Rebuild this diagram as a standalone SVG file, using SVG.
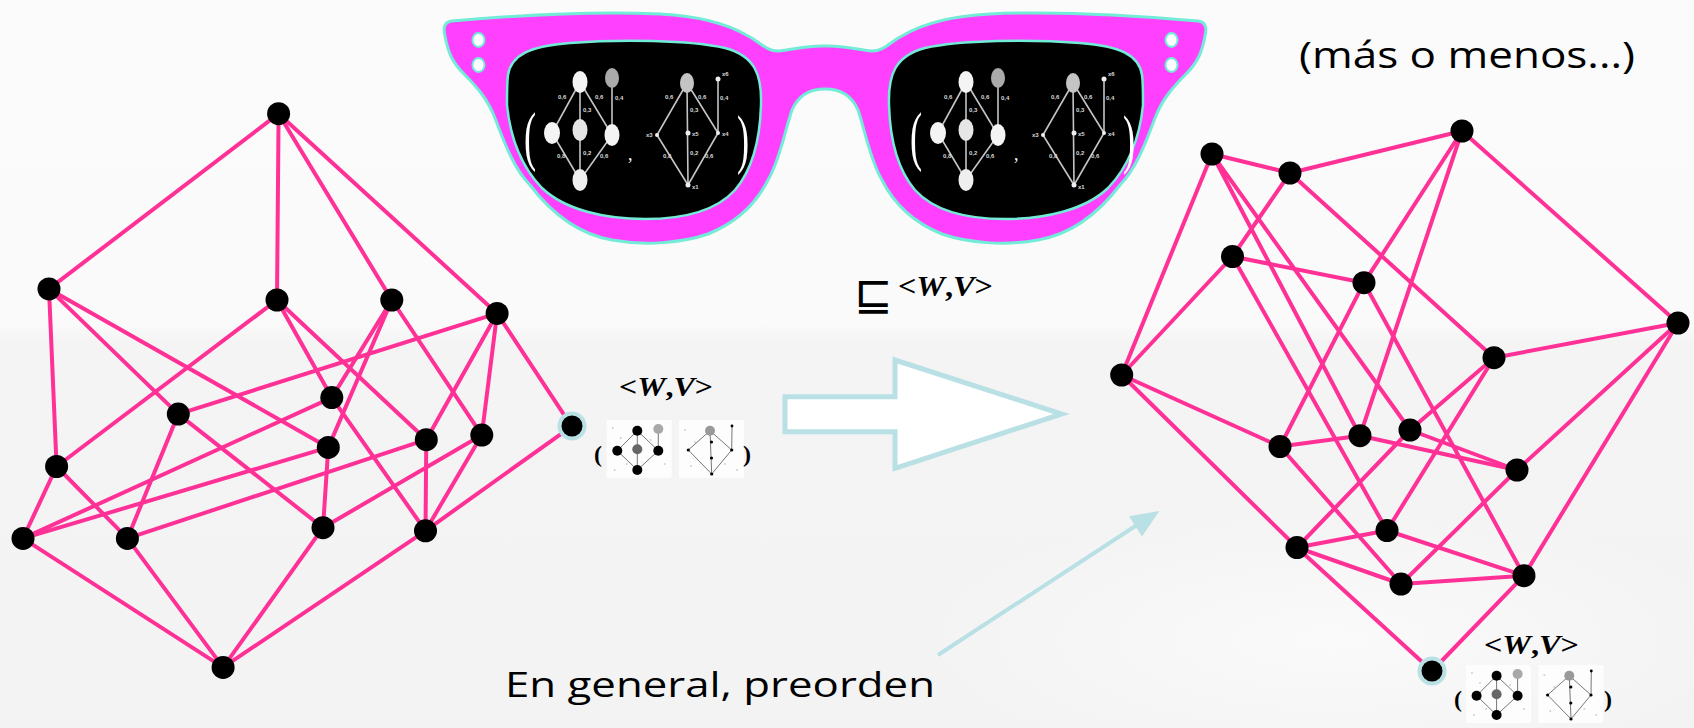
<svg xmlns="http://www.w3.org/2000/svg" xmlns:xlink="http://www.w3.org/1999/xlink" width="1694" height="728" viewBox="0 0 1694 728">
  <style>
    .edge { stroke: #ff3196; stroke-width: 4; stroke-linecap: round; fill: none; }
    .dot { fill: #000; }
    .ring { fill: #b9e0e4; }
    .frame { fill: #ff40ff; stroke: #72ecd6; stroke-width: 3; stroke-linejoin: round; }
    .lens { fill: #000; stroke: #72ecd6; stroke-width: 2.5; }
    .pin { fill: #fff; stroke: #72ecd6; stroke-width: 2; }
    .pointer { fill: none; stroke: #b9e0e4; stroke-width: 4; }
    .math { font-family: "Liberation Serif", "Times New Roman", serif; font-weight: bold; fill: #000; }
    .hand { font-family: "Open Sans", "Liberation Sans", sans-serif; fill: #000; }
    .tiny { font-family: "Liberation Sans", sans-serif; font-size: 6px; font-weight: bold; fill: #d8d8d8; }
    .thin { fill: #fff; font-family: "Liberation Serif", serif; }
    .art-edge { stroke: #c4c4c4; stroke-width: 1.6; fill: none; }
    .thumb-edge { stroke: #777; stroke-width: 1; fill: none; }
  </style>
  <defs>
    <linearGradient id="bg" x1="0" y1="0" x2="0" y2="1">
      <stop offset="0" stop-color="#fbfbfb"/>
      <stop offset="0.445" stop-color="#fafafa"/>
      <stop offset="0.47" stop-color="#f4f4f4"/>
      <stop offset="1" stop-color="#f3f3f3"/>
    </linearGradient>
    <radialGradient id="haze" cx="0.5" cy="0.5" r="0.5">
      <stop offset="0" stop-color="#ffffff" stop-opacity="0.6"/>
      <stop offset="1" stop-color="#ffffff" stop-opacity="0"/>
    </radialGradient>
    <filter id="soft" x="-20%" y="-20%" width="140%" height="140%">
      <feGaussianBlur stdDeviation="0.7"/>
    </filter>

    <!-- lens outline (left lens; the right one is its mirror image) -->
    <path id="lensShape" d="M508,75 C511,55 530,46 570,43 C620,39 690,40 725,48 C755,56 762,75 761,105 C760,140 752,170 735,190 C715,212 680,219 645,219 C605,219 565,210 542,188 C520,165 510,135 507,105 C507,92 507,82 508,75 Z"/>

    <!-- the two little lattices seen through a lens -->
    <g id="lensArt">
      <g filter="url(#soft)">
        <path class="art-edge" d="M580,82 L552,133 M580,82 L580,180 M580,82 L612,135 M552,133 L580,180 M612,135 L580,180 M612,78 L612,135"/>
        <ellipse cx="580" cy="82" rx="7.5" ry="11" fill="#f4f4f4"/>
        <ellipse cx="612" cy="78" rx="7" ry="10" fill="#aaaaaa"/>
        <ellipse cx="552" cy="133" rx="8" ry="11" fill="#f4f4f4"/>
        <ellipse cx="580" cy="130" rx="7.5" ry="11" fill="#e6e6e6"/>
        <ellipse cx="612" cy="135" rx="7.5" ry="11" fill="#f4f4f4"/>
        <ellipse cx="580" cy="180" rx="7.5" ry="11" fill="#efefef"/>
        <path class="art-edge" d="M687,83 L657,135 M687,83 L688,185 M687,83 L718,133 M657,135 L688,185 M718,133 L688,185 M718,80 L718,133"/>
        <ellipse cx="687" cy="83" rx="7" ry="10" fill="#c4c4c4"/>
        <circle cx="718" cy="79" r="2.5" fill="#eee"/>
        <circle cx="657" cy="135" r="2" fill="#eee"/>
        <circle cx="688" cy="133" r="2.5" fill="#eee"/>
        <circle cx="718" cy="133" r="2" fill="#eee"/>
        <circle cx="688" cy="185" r="2.5" fill="#eee"/>
      </g>
      <text class="tiny" x="558" y="99">0,6</text>
      <text class="tiny" x="595" y="99">0,6</text>
      <text class="tiny" x="615" y="100">0,4</text>
      <text class="tiny" x="583" y="112">0,3</text>
      <text class="tiny" x="557" y="158">0,8</text>
      <text class="tiny" x="583" y="155">0,2</text>
      <text class="tiny" x="600" y="158">0,6</text>
      <text class="tiny" x="665" y="99">0,6</text>
      <text class="tiny" x="698" y="99">0,6</text>
      <text class="tiny" x="720" y="100">0,4</text>
      <text class="tiny" x="690" y="112">0,3</text>
      <text class="tiny" x="663" y="158">0,8</text>
      <text class="tiny" x="690" y="155">0,2</text>
      <text class="tiny" x="705" y="158">0,6</text>
      <text class="tiny" x="646" y="137">x3</text>
      <text class="tiny" x="692" y="136">x5</text>
      <text class="tiny" x="722" y="136">x4</text>
      <text class="tiny" x="692" y="189">x1</text>
      <text class="tiny" x="722" y="76">x6</text>
      <text class="thin" font-size="66" transform="translate(524,158) scale(0.55,1)">(</text>
      <text class="thin" font-size="66" transform="translate(737,161) scale(0.55,1)">)</text>
      <text class="thin" x="628" y="160" font-size="18">,</text>
    </g>

    <!-- pair of valuation thumbnails, origin at top-left of the first one -->
    <g id="thumbs">
      <rect x="0" y="0" width="65" height="58" fill="#fdfdfd"/>
      <g fill="#cfcfcf">
        <circle cx="6" cy="8" r="1"/><circle cx="14" cy="18" r="1"/><circle cx="44" cy="20" r="1"/>
        <circle cx="58" cy="44" r="1"/><circle cx="20" cy="44" r="1"/><circle cx="8" cy="50" r="1"/>
      </g>
      <path class="thumb-edge" d="M30.6,10.7 L10.6,30.7 M30.6,10.7 L51.6,30.7 M30.6,10.7 L30.6,50 M10.6,30.7 L30.6,50 M51.6,30.7 L30.6,50 M51.6,9 L51.6,30.7"/>
      <circle cx="30.6" cy="10.7" r="5"/>
      <circle cx="51.6" cy="9" r="5" fill="#a8a8a8"/>
      <circle cx="10.6" cy="30.7" r="5"/>
      <circle cx="30.6" cy="29.3" r="5" fill="#666"/>
      <circle cx="51.6" cy="30.7" r="5"/>
      <circle cx="30.6" cy="50" r="5"/>
      <g transform="translate(72.3,0)">
        <rect x="0" y="0" width="65" height="58" fill="#fdfdfd"/>
        <g fill="#cfcfcf">
          <circle cx="6" cy="10" r="1"/><circle cx="16" cy="22" r="1"/><circle cx="46" cy="44" r="1"/>
          <circle cx="58" cy="50" r="1"/><circle cx="12" cy="46" r="1"/>
        </g>
        <path class="thumb-edge" d="M31,10.7 L9.3,30 M31,10.7 L52.7,30 M31,10.7 L32.7,54 M9.3,30 L32.7,54 M52.7,30 L32.7,54 M53,6 L52.7,30"/>
        <circle cx="31" cy="10.7" r="5" fill="#999"/>
        <circle cx="32.5" cy="22" r="1.6"/>
        <circle cx="32.5" cy="38" r="1.6"/>
        <circle cx="32.7" cy="54" r="1.6"/>
        <circle cx="9.3" cy="30" r="1.6"/>
        <circle cx="52.7" cy="30" r="1.6"/>
        <circle cx="53" cy="6" r="1.4"/>
      </g>
    </g>
  </defs>

  <!-- backdrop -->
  <rect width="1694" height="728" fill="url(#bg)"/>
  <ellipse cx="1330" cy="640" rx="420" ry="140" fill="url(#haze)"/>

  <!-- sunglasses -->
  <g id="glasses">
    <path class="frame" d="M825,46 C808,45 792,50 778,51 C766,51 760,42 748,36 C728,24 700,16 660,14 C600,11 520,15 452,21 C444,22 443,28 445,36 C448,52 452,62 464,74 C478,88 488,100 495,118 C505,145 515,170 530,185 C552,214 578,234 612,240 C645,246 682,243 708,234 C738,222 757,202 768,180 C780,160 785,130 792,110 C798,96 808,89 825,89 C842,89 852,96 858,110 C865,130 870,160 882,180 C893,202 912,222 942,234 C968,243 1005,246 1038,240 C1072,234 1098,214 1120,185 C1135,170 1145,145 1155,118 C1162,100 1172,88 1186,74 C1198,62 1202,52 1205,36 C1207,28 1206,22 1198,21 C1130,15 1050,11 990,14 C950,16 922,24 902,36 C890,42 884,51 872,51 C858,50 842,45 825,46 Z"/>
    <ellipse class="pin" cx="478.5" cy="40" rx="6" ry="7"/>
    <ellipse class="pin" cx="478.5" cy="65" rx="6" ry="7"/>
    <ellipse class="pin" cx="1171.5" cy="40" rx="6" ry="7"/>
    <ellipse class="pin" cx="1171.5" cy="65" rx="6" ry="7"/>
    <use xlink:href="#lensShape" class="lens"/>
    <use xlink:href="#lensShape" class="lens" transform="translate(1650,0) scale(-1,1)"/>
    <use xlink:href="#lensArt"/>
    <use xlink:href="#lensArt" transform="translate(386,0)"/>
  </g>

  <!-- connectors of the left lattice -->
  <g id="edges-left" class="edge">
    <line x1="278.6" y1="113.7" x2="49" y2="288.9"/>
    <line x1="278.6" y1="113.7" x2="277" y2="300"/>
    <line x1="278.6" y1="113.7" x2="391.8" y2="300"/>
    <line x1="278.6" y1="113.7" x2="497.1" y2="313.4"/>
    <line x1="49" y1="288.9" x2="56.6" y2="466.5"/>
    <line x1="49" y1="288.9" x2="328.3" y2="447.4"/>
    <line x1="49" y1="288.9" x2="178.3" y2="414.1"/>
    <line x1="277" y1="300" x2="56.6" y2="466.5"/>
    <line x1="277" y1="300" x2="331.8" y2="397.6"/>
    <line x1="277" y1="300" x2="426.3" y2="439.7"/>
    <line x1="391.8" y1="300" x2="331.8" y2="397.6"/>
    <line x1="391.8" y1="300" x2="328.3" y2="447.4"/>
    <line x1="391.8" y1="300" x2="481.8" y2="435.1"/>
    <line x1="497.1" y1="313.4" x2="178.3" y2="414.1"/>
    <line x1="497.1" y1="313.4" x2="426.3" y2="439.7"/>
    <line x1="497.1" y1="313.4" x2="481.8" y2="435.1"/>
    <line x1="497.1" y1="313.4" x2="571.7" y2="426.3"/>
    <line x1="56.6" y1="466.5" x2="23" y2="538.4"/>
    <line x1="56.6" y1="466.5" x2="127.4" y2="538.4"/>
    <line x1="328.3" y1="447.4" x2="23" y2="538.4"/>
    <line x1="328.3" y1="447.4" x2="323" y2="527.7"/>
    <line x1="178.3" y1="414.1" x2="127.4" y2="538.4"/>
    <line x1="178.3" y1="414.1" x2="323" y2="527.7"/>
    <line x1="331.8" y1="397.6" x2="23" y2="538.4"/>
    <line x1="331.8" y1="397.6" x2="425.5" y2="530.8"/>
    <line x1="426.3" y1="439.7" x2="127.4" y2="538.4"/>
    <line x1="426.3" y1="439.7" x2="425.5" y2="530.8"/>
    <line x1="481.8" y1="435.1" x2="323" y2="527.7"/>
    <line x1="481.8" y1="435.1" x2="425.5" y2="530.8"/>
    <line x1="571.7" y1="426.3" x2="425.5" y2="530.8"/>
    <line x1="23" y1="538.4" x2="223.1" y2="667.4"/>
    <line x1="127.4" y1="538.4" x2="223.1" y2="667.4"/>
    <line x1="323" y1="527.7" x2="223.1" y2="667.4"/>
    <line x1="425.5" y1="530.8" x2="223.1" y2="667.4"/>
  </g>

  <!-- connectors of the right lattice -->
  <g id="edges-right" class="edge">
    <line x1="1212" y1="154" x2="1290" y2="173"/>
    <line x1="1290" y1="173" x2="1462" y2="131"/>
    <line x1="1212" y1="154" x2="1121.7" y2="375"/>
    <line x1="1121.7" y1="375" x2="1232.5" y2="256.5"/>
    <line x1="1232.5" y1="256.5" x2="1290" y2="173"/>
    <line x1="1232.5" y1="256.5" x2="1364" y2="282.7"/>
    <line x1="1290" y1="173" x2="1494" y2="357.7"/>
    <line x1="1462" y1="131" x2="1678" y2="323"/>
    <line x1="1462" y1="131" x2="1364" y2="282.7"/>
    <line x1="1462" y1="131" x2="1360" y2="435.7"/>
    <line x1="1494" y1="357.7" x2="1678" y2="323"/>
    <line x1="1678" y1="323" x2="1517" y2="470"/>
    <line x1="1678" y1="323" x2="1524" y2="575.7"/>
    <line x1="1410" y1="430" x2="1517" y2="470"/>
    <line x1="1360" y1="435.7" x2="1517" y2="470"/>
    <line x1="1121.7" y1="375" x2="1280" y2="446.5"/>
    <line x1="1121.7" y1="375" x2="1297" y2="547.5"/>
    <line x1="1280" y1="446.5" x2="1360" y2="435.7"/>
    <line x1="1364" y1="282.7" x2="1280" y2="446.5"/>
    <line x1="1297" y1="547.5" x2="1432" y2="671"/>
    <line x1="1524" y1="575.7" x2="1432" y2="671"/>
    <line x1="1517" y1="470" x2="1401" y2="584"/>
    <line x1="1401" y1="584" x2="1524" y2="575.7"/>
    <line x1="1387" y1="530.5" x2="1524" y2="575.7"/>
    <line x1="1364" y1="282.7" x2="1524" y2="575.7"/>
    <line x1="1297" y1="547.5" x2="1410" y2="430"/>
    <line x1="1297" y1="547.5" x2="1387" y2="530.5"/>
    <line x1="1297" y1="547.5" x2="1401" y2="584"/>
    <line x1="1387" y1="530.5" x2="1494" y2="357.7"/>
    <line x1="1494" y1="357.7" x2="1410" y2="430"/>
    <line x1="1212" y1="154" x2="1360" y2="435.7"/>
    <line x1="1212" y1="154" x2="1410" y2="430"/>
    <line x1="1232.5" y1="256.5" x2="1387" y2="530.5"/>
    <line x1="1280" y1="446.5" x2="1401" y2="584"/>
  </g>

  <!-- left lattice elements -->
  <g id="n-left-1"><circle class="dot" cx="278.6" cy="113.7" r="11.5"/></g>
  <g id="n-left-2"><circle class="dot" cx="49" cy="288.9" r="11.5"/></g>
  <g id="n-left-3"><circle class="dot" cx="277" cy="300" r="11.5"/></g>
  <g id="n-left-4"><circle class="dot" cx="391.8" cy="300" r="11.5"/></g>
  <g id="n-left-5"><circle class="dot" cx="497.1" cy="313.4" r="11.5"/></g>
  <g id="n-left-6"><circle class="dot" cx="331.8" cy="397.6" r="11.5"/></g>
  <g id="n-left-7"><circle class="dot" cx="178.3" cy="414.1" r="11.5"/></g>
  <g id="n-left-8"><circle class="dot" cx="328.3" cy="447.4" r="11.5"/></g>
  <g id="n-left-9"><circle class="dot" cx="426.3" cy="439.7" r="11.5"/></g>
  <g id="n-left-10"><circle class="dot" cx="481.8" cy="435.1" r="11.5"/></g>
  <g id="n-left-11"><circle class="ring" cx="572" cy="426" r="14.5"/><circle class="dot" cx="572" cy="426" r="10.5"/></g>
  <g id="n-left-12"><circle class="dot" cx="56.6" cy="466.5" r="11.5"/></g>
  <g id="n-left-13"><circle class="dot" cx="23" cy="538.4" r="11.5"/></g>
  <g id="n-left-14"><circle class="dot" cx="127.4" cy="538.4" r="11.5"/></g>
  <g id="n-left-15"><circle class="dot" cx="323" cy="527.7" r="11.5"/></g>
  <g id="n-left-16"><circle class="dot" cx="425.5" cy="530.8" r="11.5"/></g>
  <g id="n-left-17"><circle class="dot" cx="223.1" cy="667.4" r="11.5"/></g>

  <!-- right lattice elements -->
  <g id="n-right-1"><circle class="dot" cx="1212" cy="154" r="11.5"/></g>
  <g id="n-right-2"><circle class="dot" cx="1290" cy="173" r="11.5"/></g>
  <g id="n-right-3"><circle class="dot" cx="1462" cy="131" r="11.5"/></g>
  <g id="n-right-4"><circle class="dot" cx="1232.5" cy="256.5" r="11.5"/></g>
  <g id="n-right-5"><circle class="dot" cx="1364" cy="282.7" r="11.5"/></g>
  <g id="n-right-6"><circle class="dot" cx="1121.7" cy="375" r="11.5"/></g>
  <g id="n-right-7"><circle class="dot" cx="1678" cy="323" r="11.5"/></g>
  <g id="n-right-8"><circle class="dot" cx="1494" cy="357.7" r="11.5"/></g>
  <g id="n-right-9"><circle class="dot" cx="1280" cy="446.5" r="11.5"/></g>
  <g id="n-right-10"><circle class="dot" cx="1360" cy="435.7" r="11.5"/></g>
  <g id="n-right-11"><circle class="dot" cx="1410" cy="430" r="11.5"/></g>
  <g id="n-right-12"><circle class="dot" cx="1517" cy="470" r="11.5"/></g>
  <g id="n-right-13"><circle class="dot" cx="1387" cy="530.5" r="11.5"/></g>
  <g id="n-right-14"><circle class="dot" cx="1297" cy="547.5" r="11.5"/></g>
  <g id="n-right-15"><circle class="dot" cx="1401" cy="584" r="11.5"/></g>
  <g id="n-right-16"><circle class="dot" cx="1524" cy="575.7" r="11.5"/></g>
  <g id="n-right-17"><circle class="ring" cx="1432" cy="671" r="14.5"/><circle class="dot" cx="1432" cy="671" r="10.5"/></g>

  <!-- annotation of the highlighted element, left -->
  <g id="label-left">
    <text class="math" x="619" y="395.5" font-size="28" textLength="94" lengthAdjust="spacingAndGlyphs">&lt;<tspan font-style="italic">W</tspan>,<tspan font-style="italic">V</tspan>&gt;</text>
    <text class="math" x="594" y="462" font-size="24" font-weight="normal">(</text>
    <use xlink:href="#thumbs" transform="translate(606.7,420)"/>
    <text class="math" x="743" y="462" font-size="24" font-weight="normal">)</text>
  </g>

  <!-- annotation of the highlighted element, right -->
  <g id="label-right">
    <text class="math" x="1484" y="653.5" font-size="28" textLength="95" lengthAdjust="spacingAndGlyphs">&lt;<tspan font-style="italic">W</tspan>,<tspan font-style="italic">V</tspan>&gt;</text>
    <text class="math" x="1454" y="707" font-size="24" font-weight="normal">(</text>
    <use xlink:href="#thumbs" transform="translate(1466,665)"/>
    <text class="math" x="1604" y="707" font-size="24" font-weight="normal">)</text>
  </g>

  <!-- order symbol above the big arrow -->
  <g id="order">
    <text x="854" y="310" font-family="DejaVu Sans, sans-serif" font-size="46" fill="#000">⊑</text>
    <text class="math" x="898" y="295.5" font-size="30" textLength="95" lengthAdjust="spacingAndGlyphs">&lt;<tspan font-style="italic">W</tspan>,<tspan font-style="italic">V</tspan>&gt;</text>
  </g>

  <!-- hollow transformation arrow -->
  <g id="big-arrow">
    <path d="M785,396.7 L895,396.7 L895,360 L1061.7,414 L895,468.3 L895,431.7 L785,431.7 Z" fill="#fff" stroke="#b9e0e4" stroke-width="5" stroke-linejoin="miter"/>
  </g>

  <!-- pointer from the caption -->
  <g id="pointer">
    <line class="pointer" x1="938" y1="655" x2="1140" y2="523"/>
    <polygon points="1159.3,511 1129,516.2 1142,536.4" fill="#b9e0e4"/>
  </g>

  <text id="caption" class="hand" x="505" y="697" font-size="34" textLength="430" lengthAdjust="spacingAndGlyphs">En general, preorden</text>
  <text id="aside" class="hand" x="1299" y="68" font-size="37" textLength="336" lengthAdjust="spacingAndGlyphs">(más o menos...)</text>
</svg>
